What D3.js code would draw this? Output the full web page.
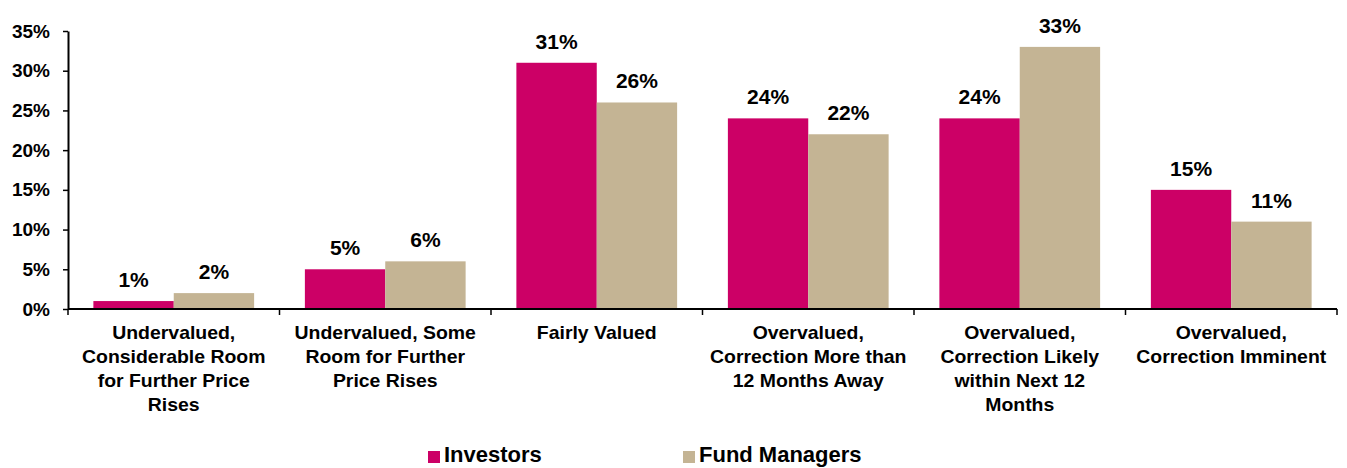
<!DOCTYPE html>
<html><head><meta charset="utf-8">
<script src="https://cdn.jsdelivr.net/npm/d3@7"></script>
<style>
body{margin:0;background:#fff;}
text{font-family:"Liberation Sans",Arial,sans-serif;font-weight:bold;fill:#000;}
</style></head>
<body>
<svg id="chart" width="1347" height="468"></svg>
<script>
const categories = [
  ["Undervalued,","Considerable Room","for Further Price","Rises"],
  ["Undervalued, Some","Room for Further","Price Rises"],
  ["Fairly Valued"],
  ["Overvalued,","Correction More than","12 Months Away"],
  ["Overvalued,","Correction Likely","within Next 12","Months"],
  ["Overvalued,","Correction Imminent"]
];
const seriesNames = ["Investors","Fund Managers"];
const investors = [1,5,31,24,24,15];
const fundManagers = [2,6,26,22,33,11];
const yTicks = [0,5,10,15,20,25,30,35];
const colors = ["#CC0066","#C4B494"];

(function(){
const svg = d3.select("#chart");
const mLeft = 68, mRight = 1337, mTop = 31, mBottom = 309;
const idx = d3.range(categories.length);
const x = d3.scaleBand().domain(idx).range([mLeft,mRight]).paddingInner(0.24).paddingOuter(0.12);
const xOuter = d3.scaleBand().domain(idx).range([mLeft,mRight]);
const x1 = d3.scaleBand().domain([0,1]).range([0,x.bandwidth()]);
const y = d3.scaleLinear().domain([0,35]).range([mBottom,mTop]);

const data = [investors, fundManagers];

idx.forEach(i=>{
  data.forEach((s,j)=>{
    svg.append("rect")
      .attr("x", x(i)+x1(j)).attr("width", x1.bandwidth())
      .attr("y", y(s[i])).attr("height", y(0)-y(s[i]))
      .attr("fill", colors[j]);
    svg.append("text")
      .attr("x", x(i)+x1(j)+x1.bandwidth()/2)
      .attr("y", y(s[i])-14)
      .attr("text-anchor","middle")
      .style("font-size","21px")
      .text(s[i]+"%");
  });
});

const yAxis = d3.axisLeft(y).tickValues(yTicks).tickFormat(d=>d+"%").tickSize(5).tickSizeOuter(0);
const ga = svg.append("g").attr("transform",`translate(${mLeft},0)`).call(yAxis);
ga.select(".domain").attr("stroke","#000").attr("stroke-width",2);
ga.selectAll(".tick line").attr("stroke","#000").attr("stroke-width",1.5);
ga.selectAll(".tick text").attr("x",-18).style("font-size","19px").style("font-family","Liberation Sans, Arial").style("font-weight","bold").attr("fill","#000");

svg.append("line").attr("x1",mLeft).attr("x2",mRight).attr("y1",mBottom).attr("y2",mBottom).attr("stroke","#000").attr("stroke-width",2);
idx.concat([categories.length]).forEach(i=>{
  const xx = i<categories.length ? xOuter(i) : mRight;
  svg.append("line").attr("x1",xx).attr("x2",xx).attr("y1",mBottom).attr("y2",mBottom+6).attr("stroke","#000").attr("stroke-width",1.5);
});
idx.forEach(i=>{
  const t = svg.append("text").attr("text-anchor","middle").style("font-size","18px")
    .attr("transform",`translate(${xOuter(i)+xOuter.bandwidth()/2},339) scale(1.08,1)`);
  categories[i].forEach((line,k)=>{
    t.append("tspan").attr("x",0).attr("y",k*24).text(line);
  });
});

const legX = [428,683];
seriesNames.forEach((n,j)=>{
  svg.append("rect").attr("x",legX[j]).attr("y",451).attr("width",12).attr("height",12).attr("fill",colors[j]);
  svg.append("text").attr("x",legX[j]+16).attr("y",462).style("font-size","22px").text(n);
});
})();
</script>
</body></html>
